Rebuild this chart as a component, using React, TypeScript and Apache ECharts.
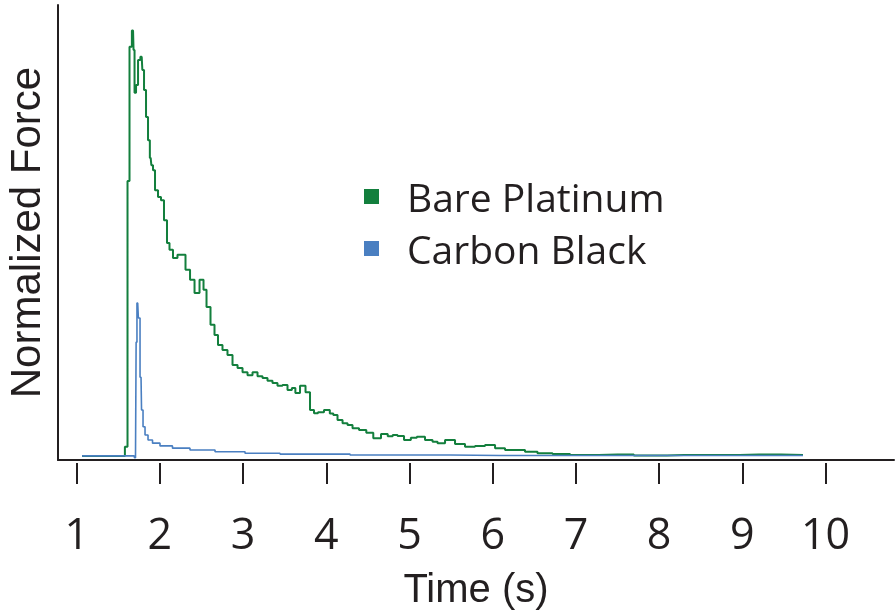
import React, { useEffect, useRef } from "react";
import * as echarts from "echarts";

const seriesNames = ["Bare Platinum", "Carbon Black"];
const tickValues = [1, 2, 3, 4, 5, 6, 7, 8, 9, 10];

// [time (s), normalized force]
const barePlatinum: number[][] = [
  [1.064, 0.009], [1.557, 0.009], [1.601, 0.029], [1.62, 0.613], [1.649, 0.908],
  [1.677, 0.944], [1.689, 0.901], [1.701, 0.807], [1.725, 0.824], [1.749, 0.879],
  [1.781, 0.886], [1.797, 0.857], [1.821, 0.813], [1.845, 0.754], [1.869, 0.703],
  [1.889, 0.664], [1.905, 0.648], [1.929, 0.637], [1.953, 0.593], [2.001, 0.578],
  [2.025, 0.571], [2.073, 0.527], [2.097, 0.477], [2.133, 0.462], [2.181, 0.444],
  [2.241, 0.451], [2.277, 0.451], [2.338, 0.418], [2.386, 0.396], [2.446, 0.367],
  [2.506, 0.396], [2.542, 0.374], [2.578, 0.336], [2.638, 0.297], [2.674, 0.275],
  [2.722, 0.253], [2.782, 0.242], [2.842, 0.231], [2.903, 0.209], [2.963, 0.202],
  [3.023, 0.193], [3.083, 0.186], [3.143, 0.193], [3.203, 0.184], [3.263, 0.18],
  [3.323, 0.174], [3.383, 0.169], [3.443, 0.163], [3.503, 0.165], [3.564, 0.154],
  [3.608, 0.158], [3.648, 0.147], [3.72, 0.163], [3.78, 0.149], [3.828, 0.11],
  [3.876, 0.103], [3.924, 0.105], [4.02, 0.11], [4.064, 0.102], [4.104, 0.099],
  [4.165, 0.088], [4.225, 0.081], [4.285, 0.077], [4.345, 0.07], [4.441, 0.066],
  [4.52, 0.06], [4.609, 0.048], [4.706, 0.057], [4.77, 0.052], [4.826, 0.055],
  [4.886, 0.053], [4.982, 0.044], [5.05, 0.049], [5.126, 0.051], [5.246, 0.044],
  [5.307, 0.04], [5.367, 0.037], [5.487, 0.044], [5.607, 0.035], [5.727, 0.029],
  [5.847, 0.031], [5.968, 0.033], [6.088, 0.026], [6.208, 0.022], [6.328, 0.022],
  [6.448, 0.018], [6.628, 0.015], [6.809, 0.013], [7.049, 0.011], [7.5, 0.012],
  [7.891, 0.01], [8.3, 0.011], [8.732, 0.011], [9.2, 0.012], [9.729, 0.011],
];

const carbonBlack: number[][] = [
  [1.064, 0.009], [1.69, 0.009], [1.7, 0.005], [1.713, 0.009], [1.715, 0.259],
  [1.733, 0.345], [1.749, 0.312], [1.773, 0.182], [1.785, 0.11], [1.809, 0.073],
  [1.833, 0.055], [1.881, 0.044], [1.941, 0.037], [2.061, 0.031], [2.241, 0.026],
  [2.482, 0.022], [2.843, 0.018], [3.203, 0.015], [3.684, 0.013], [4.886, 0.011],
  [6.088, 0.01], [7.29, 0.01], [8.492, 0.01], [9.729, 0.01],
];

const INK = "#231f20";
const GREEN = "#137f3d";
const BLUE = "#4a7fc1";
const FONT = "'Open Sans', 'Noto Sans', sans-serif";
const NAME_FONT = "'Liberation Sans', Arial, sans-serif";

export default function App() {
  const ref = useRef<HTMLDivElement>(null);

  useEffect(() => {
    if (!ref.current) return;
    const chart = echarts.init(ref.current, undefined, { renderer: "svg" });
    chart.setOption({
      animation: false,
      grid: {
        left: 58,
        right: 2,
        top: 5,
        bottom: 152,
        containLabel: false,
        outerBoundsMode: "none",
      },
      legend: {
        data: seriesNames,
        orient: "vertical",
        left: 359,
        top: 172,
        itemGap: 13,
        icon: "rect",
        itemWidth: 15,
        itemHeight: 15,
        textStyle: {
          fontSize: 39,
          color: INK,
          fontFamily: FONT,
          padding: [0, 0, 0, 23],
        },
      },
      xAxis: [
        {
          type: "value",
          min: 0.775,
          max: 10.823,
          axisLine: { show: true, lineStyle: { color: INK, width: 2 } },
          axisTick: { show: false },
          axisLabel: { show: false },
          splitLine: { show: false },
          name: "Time (s)",
          nameLocation: "middle",
          nameGap: 109,
          nameTextStyle: {
            fontSize: 40,
            lineHeight: 38,
            color: INK,
            fontFamily: NAME_FONT,
          },
        },
        {
          type: "value",
          min: 0.775,
          max: 10.823,
          position: "bottom",
          offset: 3,
          axisLine: { show: false },
          axisTick: {
            show: true,
            length: 21,
            customValues: tickValues,
            lineStyle: { color: INK, width: 2 },
          },
          axisLabel: {
            show: true,
            customValues: tickValues,
            margin: 48,
            fontSize: 43,
            color: INK,
            fontFamily: FONT,
          },
          splitLine: { show: false },
        },
      ],
      yAxis: {
        type: "value",
        min: 0,
        max: 1,
        axisLine: { show: true, lineStyle: { color: INK, width: 2 } },
        axisTick: { show: false },
        axisLabel: { show: false },
        splitLine: { show: false },
        name: "Normalized Force",
        nameLocation: "middle",
        nameGap: 12,
        nameTextStyle: {
          fontSize: 42,
          lineHeight: 42,
          color: INK,
          fontFamily: NAME_FONT,
        },
      },
      series: [
        {
          name: seriesNames[0],
          type: "line",
          xAxisIndex: 0,
          data: barePlatinum,
          step: "middle",
          symbol: "none",
          color: GREEN,
          lineStyle: { color: GREEN, width: 2 },
        },
        {
          name: seriesNames[1],
          type: "line",
          xAxisIndex: 0,
          data: carbonBlack,
          step: "middle",
          symbol: "none",
          color: BLUE,
          lineStyle: { color: BLUE, width: 1.6 },
        },
      ],
    });
    return () => chart.dispose();
  }, []);

  return (
    <div
      ref={ref}
      style={{ position: "fixed", left: 0, top: 0, width: 896, height: 612 }}
    />
  );
}
